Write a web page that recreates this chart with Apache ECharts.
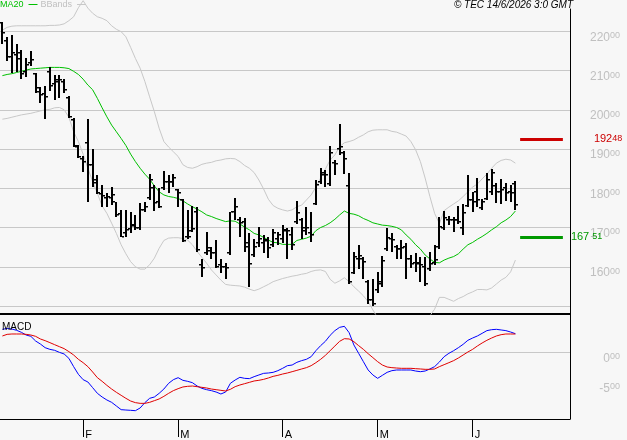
<!DOCTYPE html>
<html>
<head>
<meta charset="utf-8">
<script src="https://cdn.jsdelivr.net/npm/echarts@6/dist/echarts.min.js"></script>
<style>
  html, body { margin: 0; padding: 0; background: #f7f7f7; }
  #chart { width: 627px; height: 440px; }
</style>
</head>
<body>
<div id="chart"></div>
<script>
// daily bars, 109 sessions
const openP = [
  222.0, 217.5, 213.5, 214.0, 213.0, 209.5, 212.0, 209.0, 204.5, 204.0,
  209.5, 206.5, 207.5, 207.0, 203.0, 197.5, 190.5, 187.5, 191.5, 186.0,
  182.0, 178.5, 177.5, 177.5, 176.5, 173.5, 168.5, 169.5, 170.5, 170.0,
  174.5, 177.5, 180.0, 176.5, 180.0, 181.5, 181.5, 179.5, 177.0, 167.5,
  169.0, 174.0, 160.5, 163.5, 164.0, 163.4, 160.5, 160.0, 163.5, 174.0,
  172.0, 171.5, 165.0, 163.0, 166.0, 166.0, 166.5, 165.5, 167.0, 167.0,
  169.0, 168.0, 171.5, 172.0, 170.0, 168.5, 176.0, 181.5, 183.5, 181.0,
  186.5, 190.0, 189.0, 180.6, 158.5, 162.0, 162.0, 156.0, 151.5, 154.0,
  156.0, 164.5, 167.0, 165.0, 164.5, 165.0, 162.0, 161.0, 161.0, 160.0,
  159.5, 161.0, 165.0, 170.0, 172.0, 172.0, 172.0, 170.0, 175.5, 177.0,
  179.0, 175.0, 177.2, 179.0, 180.5, 179.0, 180.0, 179.0, 181.0
]
const highP = [
  222.3, 218.5, 219.1, 216.8, 215.2, 213.3, 215.0, 209.3, 205.7, 206.1,
  210.8, 208.9, 208.9, 207.8, 203.6, 197.8, 190.9, 188.1, 197.6, 190.0,
  183.4, 180.8, 178.9, 180.2, 176.6, 174.5, 174.5, 174.0, 173.2, 176.3,
  176.4, 183.6, 180.8, 180.0, 184.5, 183.4, 183.6, 179.7, 177.2, 174.5,
  175.5, 175.3, 161.9, 168.8, 165.1, 166.8, 161.9, 161.0, 173.9, 177.4,
  172.8, 172.3, 168.5, 167.0, 170.2, 168.1, 167.5, 169.5, 168.9, 170.6,
  170.0, 170.2, 176.7, 172.3, 175.1, 174.0, 182.1, 185.1, 184.6, 190.8,
  187.2, 196.4, 189.5, 184.0, 163.8, 165.5, 162.6, 156.6, 157.0, 158.7,
  162.7, 169.8, 168.5, 165.5, 166.8, 166.0, 163.1, 163.4, 162.6, 162.6,
  163.8, 165.5, 172.8, 174.3, 172.9, 172.8, 175.5, 176.1, 183.4, 179.1,
  182.5, 177.2, 183.8, 184.8, 181.4, 182.3, 181.4, 180.8, 181.9
]
const lowP = [
  216.7, 212.5, 209.3, 209.7, 207.8, 208.4, 211.2, 204.4, 201.6, 197.6,
  204.9, 202.5, 203.1, 204.4, 197.8, 190.6, 187.6, 184.2, 176.6, 180.4,
  178.5, 175.3, 175.3, 175.7, 172.8, 167.5, 167.7, 168.5, 169.4, 169.4,
  173.9, 177.0, 174.3, 174.9, 179.6, 178.7, 180.2, 175.1, 166.4, 167.0,
  168.8, 163.8, 157.5, 163.0, 162.1, 159.6, 158.3, 156.8, 163.1, 171.9,
  167.7, 163.7, 154.9, 162.6, 165.1, 163.4, 162.3, 165.1, 165.5, 166.0,
  161.9, 164.3, 171.0, 167.0, 168.0, 166.4, 175.7, 181.2, 180.4, 180.6,
  183.4, 188.5, 183.6, 155.6, 158.1, 159.3, 157.0, 150.5, 150.0, 153.4,
  154.9, 164.1, 163.8, 162.0, 162.1, 157.0, 159.6, 158.7, 156.2, 155.1,
  159.0, 160.4, 164.4, 169.4, 170.6, 168.9, 171.0, 168.1, 175.3, 174.0,
  175.3, 174.5, 177.0, 178.3, 176.3, 176.1, 176.8, 176.6, 174.5
]
const closeP = [
  219.5, 213.4, 214.4, 214.4, 209.1, 211.4, 212.7, 205.5, 203.8, 203.2,
  206.0, 207.2, 207.6, 205.0, 198.2, 190.8, 187.9, 186.6, 185.9, 181.4,
  178.9, 178.0, 177.9, 178.3, 173.2, 167.7, 169.4, 170.6, 170.0, 174.5,
  175.3, 182.1, 176.2, 175.3, 181.7, 181.7, 182.5, 178.9, 166.6, 167.7,
  169.5, 164.3, 159.6, 164.7, 163.4, 160.0, 160.0, 159.7, 173.9, 175.3,
  171.1, 166.0, 160.8, 165.1, 167.0, 166.8, 164.7, 168.5, 168.1, 169.4,
  169.0, 165.5, 173.6, 169.1, 169.8, 168.1, 180.8, 183.8, 183.4, 188.9,
  186.3, 190.5, 187.5, 156.0, 162.6, 162.7, 161.3, 151.5, 150.5, 155.7,
  161.5, 167.2, 166.8, 164.4, 164.7, 162.1, 160.8, 160.8, 160.4, 155.6,
  160.8, 161.7, 170.2, 172.3, 171.9, 171.9, 171.5, 173.6, 177.0, 176.6,
  177.0, 176.6, 182.0, 183.8, 179.1, 179.5, 178.9, 178.7, 175.7
]
const ma20 = [
  208.7, 209.0, 209.2, 209.5, 209.8, 210.1, 210.4, 210.5, 210.6, 210.7,
  210.8, 210.8, 210.8, 210.7, 210.5, 209.8, 209.0, 207.8, 206.3, 205.1,
  202.9, 200.5, 198.2, 196.1, 194.4, 192.7, 190.9, 188.7, 186.8, 185.1,
  183.6, 182.3, 180.6, 179.1, 178.3, 177.9, 177.7, 177.4, 176.8, 176.0,
  175.3, 174.7, 174.0, 173.2, 172.8, 172.3, 171.9, 171.5, 171.7, 171.6,
  170.9, 170.1, 169.4, 168.5, 168.1, 167.5, 166.8, 166.2, 166.1, 165.7,
  165.7, 165.7, 166.7, 167.0, 167.3, 167.8, 169.2, 170.0, 170.5, 171.2,
  172.1, 173.2, 174.2, 173.6, 173.4, 173.0, 172.3, 171.8, 171.2, 170.9,
  170.6, 170.5, 170.3, 170.0, 169.4, 168.1, 167.0, 165.6, 164.5, 163.0,
  162.0, 161.1, 161.0, 161.7, 162.2, 162.6, 163.3, 164.5, 165.6, 166.2,
  167.0, 167.7, 168.5, 169.4, 170.2, 171.2, 171.9, 172.8, 174.2
]
const bbUpper = [
  220.3, 221.0, 221.3, 221.4, 221.4, 221.4, 221.4, 221.4, 221.4, 221.4,
  221.5, 221.5, 221.6, 221.9, 222.7, 223.7, 226.0, 227.8, 225.9, 224.6,
  223.7, 223.3, 222.7, 221.4, 220.5, 219.9, 218.6, 215.9, 213.1, 210.6,
  207.2, 203.3, 199.5, 195.3, 191.9, 190.5, 189.3, 188.1, 186.0, 185.3,
  185.1, 185.5, 186.1, 186.4, 186.6, 187.0, 187.2, 187.5, 187.6, 187.5,
  186.8, 185.8, 185.1, 184.0, 182.1, 179.8, 177.2, 175.6, 174.9, 174.5,
  174.2, 174.5, 175.3, 175.7, 177.0, 178.3, 180.3, 182.6, 184.9, 187.2,
  188.5, 190.6, 191.6, 191.9, 192.3, 193.0, 193.6, 194.4, 194.8, 194.9,
  194.9, 194.9, 194.5, 194.3, 193.8, 193.3, 191.9, 189.8, 186.8, 182.6,
  177.9, 173.6, 171.0, 174.3, 175.2, 176.0, 176.8, 177.9, 179.1, 180.3,
  181.1, 182.4, 183.6, 185.1, 186.4, 187.1, 187.4, 187.2, 186.4
]
const bbLower = [
  197.6, 197.8, 198.1, 198.4, 198.7, 198.9, 199.1, 199.4, 199.7, 200.0,
  200.1, 200.5, 200.6, 200.0, 198.1, 194.4, 191.9, 188.7, 185.1, 181.7,
  178.7, 175.5, 173.6, 171.1, 168.5, 165.6, 163.3, 161.3, 160.0, 159.4,
  159.4, 160.5, 162.2, 164.7, 166.7, 167.3, 167.4, 167.4, 167.2, 166.8,
  165.6, 163.9, 162.4, 160.9, 159.2, 157.9, 156.6, 155.5, 155.3, 155.2,
  155.1, 154.8, 154.3, 153.9, 154.3, 154.9, 155.5, 156.2, 156.6, 157.0,
  157.3, 157.6, 157.8, 158.1, 158.3, 158.8, 159.1, 159.2, 158.8, 156.8,
  155.8, 156.4, 157.2, 156.2, 154.9, 153.8, 152.6, 151.1, 149.0, 147.0,
  145.5, 144.5, 144.0, 143.8, 143.8, 144.0, 144.5, 145.0, 145.5, 146.2,
  147.5, 149.2, 152.2, 152.2, 151.7, 151.2, 151.9, 152.4, 153.1, 153.6,
  154.2, 154.2, 154.1, 154.6, 155.6, 156.6, 157.3, 158.7, 161.7
]
const macdLine = [
  3.83, 3.97, 3.88, 3.66, 3.33, 2.88, 2.66, 1.88, 1.38, 0.77,
  0.49, 0.33, -0.01, -0.28, -1.01, -2.39, -3.67, -4.56, -4.95, -5.89,
  -6.84, -7.45, -7.95, -8.34, -8.95, -9.56, -9.62, -9.67, -9.73, -9.28,
  -8.39, -7.67, -7.45, -6.84, -6.12, -5.17, -4.56, -4.23, -4.67, -4.84,
  -5.06, -5.62, -6.01, -6.23, -6.39, -6.62, -6.95, -6.62, -5.17, -4.62,
  -4.17, -4.34, -4.39, -4.06, -3.78, -3.51, -3.45, -3.34, -3.06, -2.67,
  -2.23, -2.12, -1.67, -1.39, -1.17, -0.73, 0.27, 1.11, 1.83, 2.83,
  3.61, 4.16, 4.33, 3.27, 1.22, -0.17, -1.56, -2.95, -3.78, -4.34,
  -3.84, -3.34, -3.06, -2.95, -2.95, -2.95, -2.95, -3.12, -3.23, -3.12,
  -2.78, -2.39, -1.62, -0.73, -0.17, 0.27, 0.77, 1.33, 2.0, 2.38,
  2.72, 3.16, 3.61, 3.77, 3.83, 3.72, 3.61, 3.38, 3.1
]
const signalLine = [
  2.72, 2.99, 3.05, 3.05, 3.05, 2.99, 2.88, 2.66, 2.22, 1.94,
  1.61, 1.27, 0.94, 0.61, 0.11, -0.45, -1.17, -1.73, -2.39, -3.28,
  -4.23, -4.84, -5.51, -6.12, -6.67, -7.17, -7.67, -8.12, -8.39, -8.51,
  -8.51, -8.34, -8.06, -7.78, -7.34, -6.84, -6.39, -6.06, -5.78, -5.67,
  -5.62, -5.73, -5.84, -5.95, -6.12, -6.23, -6.34, -6.45, -6.17, -5.73,
  -5.45, -5.23, -5.01, -4.78, -4.67, -4.51, -4.28, -4.01, -3.84, -3.62,
  -3.45, -3.23, -3.01, -2.78, -2.56, -2.23, -1.73, -1.17, -0.51, 0.27,
  1.05, 1.83, 2.27, 2.22, 1.77, 1.11, 0.49, -0.23, -0.89, -1.56,
  -2.12, -2.45, -2.56, -2.62, -2.67, -2.67, -2.67, -2.73, -2.78, -2.84,
  -2.84, -2.78, -2.39, -2.06, -1.73, -1.39, -0.95, -0.45, 0.05, 0.49,
  1.05, 1.55, 2.0, 2.38, 2.72, 2.94, 3.05, 3.05, 3.05
]

// axis stuff
const slotCount = 120            // 109 sessions + empty space on the right
const monthStart = [17, 37, 59, 79, 99]
const monthLabel = ['F', 'M', 'A', 'M', 'J']
const priceTicks = [150, 160, 170, 180, 190, 200, 210, 220]
const priceLabels = [160, 170, 180, 190, 200, 210, 220]
const macdTicks = [0, -5]
const levelHigh = 192.48
const levelLow = 167.51
const levelFrom = 109
const levelTo = 118

const FONT = 'Liberation Sans, Arial, sans-serif'
const GRID_GRAY = '#c8c8c8'
const LABEL_GRAY = '#c0c0c0'

let slots = []
for (let i = 0; i < slotCount; i++) slots.push(String(i))

let bars = openP.map((o, i) => [i, o, highP[i], lowP[i], closeP[i]])

function splitNum (v) {
  let s = v.toFixed(2).split('.')
  return '{a|' + s[0] + '}{b|' + s[1] + '}'
}

function isTick (v, list) {
  let r = Math.round(v)
  return Math.abs(v - r) < 0.001 && list.includes(r)
}

function drawBar (params, api) {
  let i = api.value(0)
  let o = api.coord([i, api.value(1)])
  let h = api.coord([i, api.value(2)])
  let l = api.coord([i, api.value(3)])
  let c = api.coord([i, api.value(4)])
  let cx = Math.round(o[0])
  let black = { fill: '#000' }
  return {
    type: 'group',
    children: [
      { type: 'rect', shape: { x: cx - 1, y: Math.round(h[1]), width: 2, height: Math.max(1, Math.round(l[1]) - Math.round(h[1])) }, style: black },
      { type: 'rect', shape: { x: cx - 3, y: Math.round(o[1]) - 1, width: 2, height: 1.5 }, style: black },
      { type: 'rect', shape: { x: cx + 1, y: Math.round(c[1]) - 1, width: 2, height: 1.5 }, style: black }
    ]
  }
}

let richLabel = {
  a: { fontSize: 12, lineHeight: 12, fontFamily: FONT, color: LABEL_GRAY },
  b: { fontSize: 9, lineHeight: 9, fontFamily: FONT, color: LABEL_GRAY, verticalAlign: 'top' }
}

let chart = echarts.init(document.getElementById('chart'))
let option = {
  animation: false,
  backgroundColor: '#f7f7f7',
  title: [
    {
      text: '© TEC 14/6/2026 3:0 GMT',
      right: 54,
      top: 0,
      padding: 0,
      textStyle: { fontSize: 10, fontStyle: 'italic', fontWeight: 'normal', color: '#000', fontFamily: FONT }
    },
    {
      text: 'MACD',
      left: 2,
      top: 322,
      padding: 0,
      textStyle: { fontSize: 10, fontWeight: 'normal', color: '#000', fontFamily: FONT }
    }
  ],
  legend: {
    left: 0,
    top: 0,
    padding: 0,
    itemGap: 3,
    align: 'right',
    icon: 'rect',
    itemWidth: 9,
    itemHeight: 1,
    selectedMode: false,
    textStyle: { fontSize: 9, fontFamily: FONT },
    data: [
      { name: 'MA20', textStyle: { color: '#00c000' } },
      { name: 'BBands', textStyle: { color: LABEL_GRAY } }
    ]
  },
  grid: [
    { left: 0, right: 57, top: 9, bottom: 126 },
    { left: 0, right: 57, top: 314, bottom: 21 }
  ],
  xAxis: [
    {
      type: 'category',
      gridIndex: 0,
      data: slots,
      boundaryGap: true,
      axisLine: { onZero: false, lineStyle: { color: '#000', width: 2 } },
      axisTick: { show: false },
      axisLabel: { show: false },
      splitLine: { show: false }
    },
    {
      type: 'category',
      gridIndex: 1,
      data: slots,
      boundaryGap: true,
      axisLine: { onZero: false, lineStyle: { color: '#000', width: 1 } },
      axisTick: {
        show: true,
        alignWithLabel: true,
        length: 18,
        interval: (idx) => monthStart.includes(idx),
        lineStyle: { color: '#000', width: 1 }
      },
      axisLabel: {
        interval: (idx) => monthStart.includes(idx),
        formatter: (v, idx) => monthLabel[monthStart.indexOf(idx)] || '',
        align: 'left',
        padding: [0, 0, 0, 2],
        margin: 10,
        fontSize: 11,
        fontFamily: FONT,
        color: '#000'
      },
      splitLine: { show: false }
    }
  ],
  yAxis: [
    {
      type: 'value',
      gridIndex: 0,
      position: 'right',
      min: 147.96,
      max: 225.68,
      minInterval: 10,
      maxInterval: 10,
      axisLine: { show: true, lineStyle: { color: '#000', width: 1 } },
      axisTick: { show: false },
      splitLine: { show: false },
      axisLabel: {
        showMinLabel: false,
        showMaxLabel: false,
        margin: 50,
        align: 'right',
        verticalAlign: 'top',
        formatter: (v) => isTick(v, priceLabels) ? splitNum(v) : '',
        rich: richLabel
      }
    },
    {
      type: 'value',
      gridIndex: 1,
      position: 'right',
      min: -11.117,
      max: 6.383,
      minInterval: 5,
      maxInterval: 5,
      axisLine: { show: true, onZero: false, lineStyle: { color: '#000', width: 1 } },
      axisTick: { show: false },
      splitLine: { show: false },
      axisLabel: {
        showMinLabel: false,
        showMaxLabel: false,
        margin: 50,
        align: 'right',
        verticalAlign: 'top',
        formatter: (v) => isTick(v, macdTicks) ? '{a|' + Math.round(v) + '}{b|00}' : '',
        rich: richLabel
      }
    }
  ],
  series: [
    {
      name: 'BBands',
      type: 'line',
      xAxisIndex: 0,
      yAxisIndex: 0,
      data: bbLower,
      symbol: 'none',
      z: 2,
      itemStyle: { color: GRID_GRAY },
      lineStyle: { color: GRID_GRAY, width: 1 },
      markLine: {
        silent: true,
        symbol: 'none',
        z: 1,
        label: { show: false },
        lineStyle: { color: GRID_GRAY, width: 1, type: 'solid' },
        emphasis: { disabled: true },
        data: priceTicks.map(v => ({ yAxis: v }))
      }
    },
    {
      name: 'BBands',
      type: 'line',
      xAxisIndex: 0,
      yAxisIndex: 0,
      data: bbUpper,
      symbol: 'none',
      clip: false,
      z: 2,
      itemStyle: { color: GRID_GRAY },
      lineStyle: { color: GRID_GRAY, width: 1 }
    },
    {
      name: 'MA20',
      type: 'line',
      xAxisIndex: 0,
      yAxisIndex: 0,
      data: ma20,
      symbol: 'none',
      z: 3,
      itemStyle: { color: '#00c000' },
      lineStyle: { color: '#00c000', width: 1 },
      markLine: {
        silent: true,
        symbol: 'none',
        emphasis: { disabled: true },
        data: [
          [
            { xAxis: levelFrom, yAxis: levelHigh, lineStyle: { color: '#cc0000', width: 3, type: 'solid' },
              label: { show: true, position: 'end', distance: 31, formatter: () => splitNum(levelHigh),
                rich: { a: { fontSize: 11, fontFamily: FONT, color: '#cc0000' }, b: { fontSize: 9, fontFamily: FONT, color: '#cc0000', verticalAlign: 'top', lineHeight: 9 } } } },
            { xAxis: levelTo, yAxis: levelHigh }
          ],
          [
            { xAxis: levelFrom, yAxis: levelLow, lineStyle: { color: '#009900', width: 3, type: 'solid' },
              label: { show: true, position: 'end', distance: 8, formatter: () => splitNum(levelLow),
                rich: { a: { fontSize: 11, fontFamily: FONT, color: '#009900' }, b: { fontSize: 9, fontFamily: FONT, color: '#009900', verticalAlign: 'top', lineHeight: 9, padding: [0, 0, 0, 3] } } } },
            { xAxis: levelTo, yAxis: levelLow }
          ]
        ]
      }
    },
    {
      name: 'Price',
      type: 'custom',
      xAxisIndex: 0,
      yAxisIndex: 0,
      z: 4,
      renderItem: drawBar,
      encode: { x: 0, y: [1, 2, 3, 4] },
      data: bars
    },
    {
      name: 'MACD',
      type: 'line',
      xAxisIndex: 1,
      yAxisIndex: 1,
      data: macdLine,
      symbol: 'none',
      z: 3,
      lineStyle: { color: '#0000ff', width: 1 },
      markLine: {
        silent: true,
        symbol: 'none',
        z: 1,
        label: { show: false },
        lineStyle: { color: GRID_GRAY, width: 1, type: 'solid' },
        emphasis: { disabled: true },
        data: [{ yAxis: 0 }]
      }
    },
    {
      name: 'Signal',
      type: 'line',
      xAxisIndex: 1,
      yAxisIndex: 1,
      data: signalLine,
      symbol: 'none',
      z: 3,
      lineStyle: { color: '#e00000', width: 1 }
    }
  ]
}
chart.setOption(option)
</script>
</body>
</html>
